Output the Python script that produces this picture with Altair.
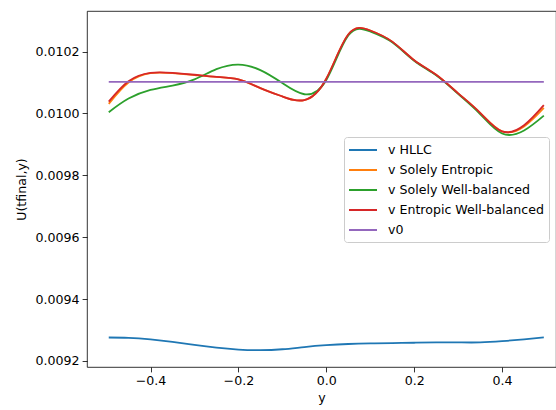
import altair as alt
import pandas as pd

x_vals = [-0.495, -0.45, -0.4, -0.35, -0.3, -0.25, -0.2, -0.15, -0.1, -0.05, 0.0,
          0.05, 0.1, 0.15, 0.2, 0.25, 0.3, 0.35, 0.4, 0.45, 0.495]

v_hllc = [0.009276, 0.009275, 0.009270, 0.009262, 0.009252, 0.009243, 0.009237, 0.009235,
          0.009238, 0.009245, 0.009251, 0.009255, 0.009257, 0.009258, 0.009259, 0.009260,
          0.009260, 0.009260, 0.009264, 0.009270, 0.009276]

v_entropic = [0.010031, 0.010100, 0.010130, 0.010130, 0.010124, 0.010118, 0.010110, 0.010082,
              0.010055, 0.010043, 0.010112, 0.010255, 0.010268, 0.010232, 0.010172, 0.010125,
              0.010065, 0.010002, 0.009942, 0.009958, 0.010018]

v_wellbal = [0.010004, 0.010048, 0.010076, 0.010090, 0.010110, 0.010143, 0.010158, 0.010140,
             0.010098, 0.010062, 0.010108, 0.010252, 0.010265, 0.010230, 0.010170, 0.010123,
             0.010063, 0.009998, 0.009935, 0.009945, 0.009993]

v_ewb = [0.010038, 0.010104, 0.010131, 0.010131, 0.010125, 0.010118, 0.010110, 0.010082,
         0.010055, 0.010043, 0.010112, 0.010255, 0.010268, 0.010232, 0.010172, 0.010125,
         0.010065, 0.010002, 0.009942, 0.009962, 0.010027]

v0 = [0.010102] * len(x_vals)

names = ["v HLLC", "v Solely Entropic", "v Solely Well-balanced", "v Entropic Well-balanced", "v0"]
colors = ["#1f77b4", "#ff7f0e", "#2ca02c", "#d62728", "#9467bd"]
series = [v_hllc, v_entropic, v_wellbal, v_ewb, v0]

y_ticks = [0.0092, 0.0094, 0.0096, 0.0098, 0.0100, 0.0102]
x_ticks = [-0.4, -0.2, 0.0, 0.2, 0.4]

FONT = "DejaVu Sans"
FS = 12.6

color_scale = alt.Scale(domain=names, range=colors)
xs = alt.Scale(domain=[-0.5445, 0.5227], nice=False, zero=False)
ys = alt.Scale(domain=[0.0091806, 0.010331], nice=False, zero=False)

layers = []
for i, (name, vals) in enumerate(zip(names, series)):
    df = pd.DataFrame({"y": x_vals, "U": vals, "series": name})
    enc = dict(
        x=alt.X("y:Q", scale=xs, title="y",
                axis=alt.Axis(values=x_ticks, format=".1f", grid=False)),
        y=alt.Y("U:Q", scale=ys, title="U(tfinal,y)",
                axis=alt.Axis(values=y_ticks, format=".4f", grid=False)),
        color=alt.Color("series:N", scale=color_scale, title=None,
                        legend=alt.Legend(orient="none", legendX=257, legendY=126,
                                          symbolType="M-2,0L2,0", symbolSize=196,
                                          symbolStrokeWidth=2, symbolOffset=6,
                                          labelOffset=17,
                                          rowPadding=5, padding=5,
                                          fillColor="rgba(255,255,255,0.8)",
                                          strokeColor="#cccccc", cornerRadius=3,
                                          labelFont=FONT, labelFontSize=FS,
                                          labelColor="black", values=names)),
    )
    layers.append(alt.Chart(df).mark_line(strokeWidth=1.8, interpolate="natural").encode(**enc))

chart = alt.layer(*layers).properties(
    width=469, height=356,
    autosize=alt.AutoSizeParams(type="none"),
    padding={"left": 87, "top": 11, "right": 0, "bottom": 43},
    background="white",
).configure_view(
    stroke="black", strokeWidth=0.8
).configure_axis(
    domain=False, tickColor="black", tickSize=4.9, tickWidth=0.8,
    labelFont=FONT, labelFontSize=FS, labelColor="black", labelPadding=3,
    titleFont=FONT, titleFontSize=FS, titleColor="black", titleFontWeight="normal",
).configure_axisX(titlePadding=4).configure_axisY(titlePadding=7)

chart.save("out.html", embed_options={"renderer": "svg", "actions": False})
